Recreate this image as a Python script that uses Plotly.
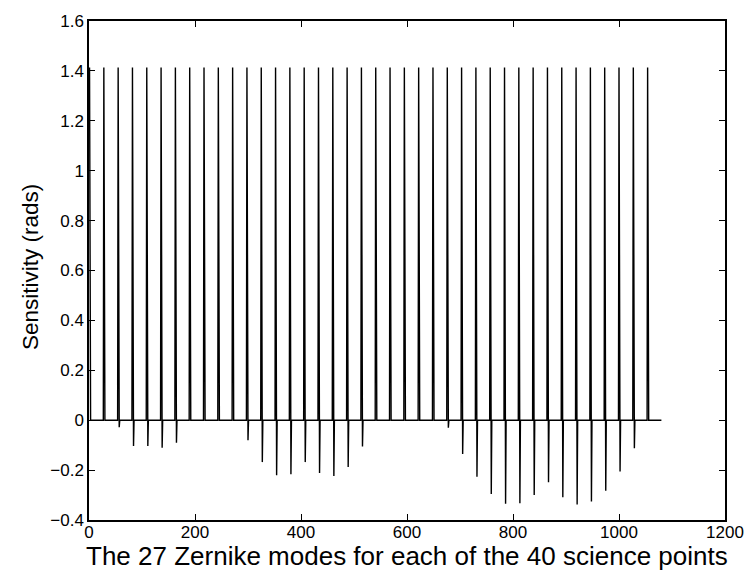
import plotly.graph_objects as go

# 40 science points x 27 Zernike modes
n_points = 40
n_modes = 27
peak_value = 1.414
# mode-2 value (positive part) per science point
mode2_vals = [0.0, 0.08, 0.0, 0.0, 0.0, 0.0, 0.068, 0.114, 0.2, 0.02,
              0.0, 0.0, 0.0, 0.0, 0.0, 0.0, 0.0, 0.03, 0.127, 0.2,
              0.226, 0.32, 0.265, 0.0, 0.0, 0.0, 0.0, 0.0, 0.0, 0.0,
              0.0, 0.0, 0.0, 0.0, 0.0, 0.084, 0.187, 0.265, 0.318, 0.338]
# mode-3 value (negative part) per science point
mode3_vals = [0.0, 0.0, -0.028, -0.103, -0.103, -0.11, -0.09, 0.0, 0.0, 0.0,
              0.0, -0.08, -0.168, -0.221, -0.217, -0.168, -0.212, -0.224, -0.188, -0.105,
              0.0, 0.0, 0.0, 0.0, 0.0, -0.03, -0.135, -0.227, -0.296, -0.335,
              -0.333, -0.3, -0.249, -0.309, -0.338, -0.326, -0.283, -0.206, -0.112, 0.0]

x_ticks = [0, 200, 400, 600, 800, 1000, 1200]
y_ticks = [-0.4, -0.2, 0, 0.2, 0.4, 0.6, 0.8, 1.0, 1.2, 1.4, 1.6]
y_tick_text = ["\u22120.4", "\u22120.2", "0", "0.2", "0.4", "0.6", "0.8", "1", "1.2", "1.4", "1.6"]

xs = []
ys = []
for g in range(n_points):
    for m in range(n_modes):
        xs.append(g * n_modes + m + 1)
        if m == 0:
            ys.append(peak_value)
        elif m == 1:
            ys.append(mode2_vals[g])
        elif m == 2:
            ys.append(mode3_vals[g])
        else:
            ys.append(0.0)

fig = go.Figure()
fig.add_trace(go.Scatter(x=xs, y=ys, mode="lines",
                         line=dict(color="black", width=1.4), showlegend=False,
                         hoverinfo="skip"))

font_family = "Liberation Sans, Arial, Helvetica, sans-serif"
axis_common = dict(showgrid=False, zeroline=False, showline=True, linecolor="black",
                   linewidth=1.5, mirror="allticks", ticks="inside", ticklen=6,
                   tickwidth=1.2, tickcolor="black",
                   tickfont=dict(family=font_family, size=17, color="black"))

fig.update_layout(
    width=756, height=579,
    margin=dict(l=89, r=24, t=14, b=59),
    paper_bgcolor="white", plot_bgcolor="white",
    xaxis=dict(range=[0, 1200], tickvals=x_ticks, ticklabelstandoff=-4, **axis_common),
    yaxis=dict(range=[-0.4, 1.6], tickvals=y_ticks, ticktext=y_tick_text, **axis_common),
    annotations=[
        dict(text="The 27 Zernike modes for each of the 40 science points",
             xref="paper", yref="paper", x=0.5, y=-0.072, xanchor="center", yanchor="middle",
             showarrow=False, font=dict(family=font_family, size=26, color="black")),
        dict(text="Sensitivity (rads)", textangle=-90,
             xref="paper", yref="paper", x=-0.092, y=0.508, xanchor="center", yanchor="middle",
             showarrow=False, font=dict(family=font_family, size=22.5, color="black")),
    ],
)

fig.write_html("out.html")
